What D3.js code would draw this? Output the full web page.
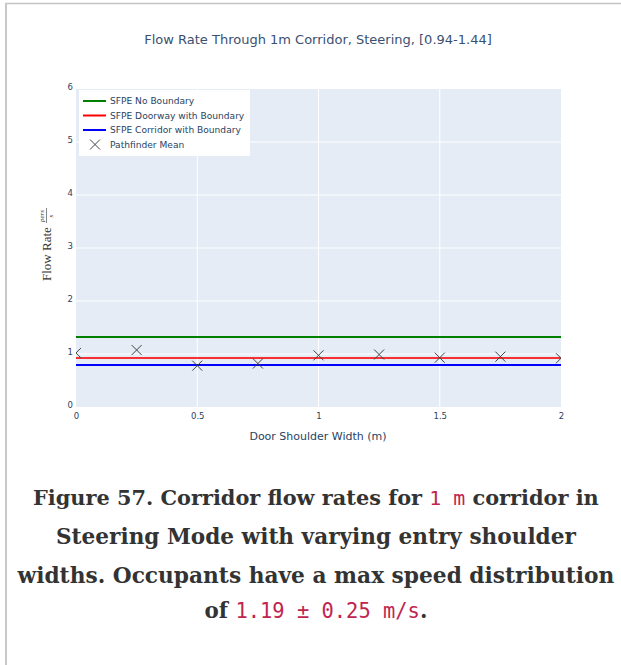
<!DOCTYPE html>
<html><head><meta charset="utf-8">
<script src="https://cdn.jsdelivr.net/npm/d3@7"></script>
<style>
html,body{margin:0;padding:0;background:#fff;}
svg{display:block;}
</style></head>
<body>
<svg id="chart" width="621" height="665"></svg>
<script>
// ---- data ----
const chartTitle = "Flow Rate Through 1m Corridor, Steering, [0.94-1.44]";
const xTitle = "Door Shoulder Width (m)";
const xTicks = [0, 0.5, 1, 1.5, 2];
const xTickLabels = ["0", "0.5", "1", "1.5", "2"];
const yTicks = [0, 1, 2, 3, 4, 5, 6];
const seriesNames = ["SFPE No Boundary", "SFPE Doorway with Boundary", "SFPE Corridor with Boundary", "Pathfinder Mean"];
const seriesColors = ["#008000", "#ff0000", "#0000ff", "#444444"];
const sfpeValues = [1.32, 0.924, 0.792];
const shoulderWidths = [0, 0.25, 0.5, 0.75, 1, 1.25, 1.5, 1.75, 2];
const pathfinderMean = [1.02, 1.075, 0.78, 0.82, 0.975, 0.99, 0.93, 0.95, 0.92];
const captionLines = [
  [["Figure 57. Corridor flow rates for ", "t"], ["1 m", "c"], [" corridor in", "t"]],
  [["Steering Mode with varying entry shoulder", "t"]],
  [["widths. Occupants have a max speed distribution", "t"]],
  [["of ", "t"], ["1.19 \u00b1 0.25 m/s", "c"], [".", "t"]]
];

// ---- layout ----
const svg = d3.select("#chart");
const M = {left: 76, right: 561, top: 89, bottom: 407};
const x = d3.scaleLinear().domain([0, 2]).range([M.left, M.right]);
const y = d3.scaleLinear().domain([0, 6]).range([M.bottom, M.top]);
const tickColor = "#2a3f5f";
const sans = "'DejaVu Sans', Verdana, sans-serif";

// page border
svg.append("line").attr("x1", 5).attr("x2", 621).attr("y1", 3.5).attr("y2", 3.5)
  .attr("stroke", "#c4c4c4").attr("stroke-width", 1.5);
svg.append("line").attr("x1", 6).attr("x2", 6).attr("y1", 3).attr("y2", 665)
  .attr("stroke", "#c8c8c8").attr("stroke-width", 2);

// plot bg
svg.append("rect").attr("x", M.left).attr("y", M.top)
  .attr("width", M.right - M.left).attr("height", M.bottom - M.top).attr("fill", "#e5ecf6");

// grid
svg.append("g").selectAll("line").data(xTicks.slice(1, -1)).join("line")
  .attr("x1", d => x(d)).attr("x2", d => x(d)).attr("y1", M.top).attr("y2", M.bottom)
  .attr("stroke", "#fff").attr("stroke-width", 1);
svg.append("g").selectAll("line").data(yTicks.slice(1, -1)).join("line")
  .attr("y1", d => y(d)).attr("y2", d => y(d)).attr("x1", M.left).attr("x2", M.right)
  .attr("stroke", "#fff").attr("stroke-width", 1);

// axes (labels only)
const xAxis = d3.axisBottom(x).tickValues(xTicks).tickFormat((d, i) => xTickLabels[i]).tickSize(0).tickPadding(6);
const gx = svg.append("g").attr("transform", `translate(0,${M.bottom})`).call(xAxis);
gx.select(".domain").remove();
gx.selectAll("text").attr("font-family", sans).attr("font-size", 8.5).attr("fill", tickColor);

const yAxis = d3.axisLeft(y).tickValues(yTicks).tickFormat(d3.format("d")).tickSize(0).tickPadding(3);
const gy = svg.append("g").attr("transform", `translate(${M.left},0)`).call(yAxis);
gy.select(".domain").remove();
gy.selectAll("text").attr("font-family", sans).attr("font-size", 8.5).attr("fill", tickColor).attr("dy", "0.1em");

// clip
svg.append("clipPath").attr("id", "clip").append("rect")
  .attr("x", M.left).attr("y", M.top).attr("width", M.right - M.left).attr("height", M.bottom - M.top);
const plot = svg.append("g").attr("clip-path", "url(#clip)");

// SFPE lines
sfpeValues.forEach((v, i) => {
  const line = d3.line().x(d => x(d)).y(() => y(v));
  plot.append("path").datum([0, 2]).attr("d", line)
    .attr("fill", "none").attr("stroke", seriesColors[i]).attr("stroke-width", 2)
    .attr("stroke-opacity", i === 1 ? 0.8 : 1);
});

// Pathfinder markers (x-thin)
const ms = 5;
const pts = shoulderWidths.map((w, i) => [w, pathfinderMean[i]]);
plot.append("g").selectAll("path").data(pts).join("path")
  .attr("d", d => {
    const cx = x(d[0]), cy = y(d[1]);
    return `M${cx - ms},${cy - ms}L${cx + ms},${cy + ms}M${cx - ms},${cy + ms}L${cx + ms},${cy - ms}`;
  })
  .attr("stroke", seriesColors[3]).attr("stroke-width", 1).attr("fill", "none");

// legend
const lg = svg.append("g");
lg.append("rect").attr("x", 79).attr("y", 90).attr("width", 171).attr("height", 66).attr("fill", "#fff");
const rowY = [101, 115.5, 130, 144.5];
seriesNames.forEach((name, i) => {
  if (i < 3) {
    lg.append("line").attr("x1", 83).attr("x2", 106).attr("y1", rowY[i]).attr("y2", rowY[i])
      .attr("stroke", seriesColors[i]).attr("stroke-width", 2);
  } else {
    const cx = 95, cy = rowY[i];
    lg.append("path").attr("d", `M${cx - ms},${cy - ms}L${cx + ms},${cy + ms}M${cx - ms},${cy + ms}L${cx + ms},${cy - ms}`)
      .attr("stroke", seriesColors[3]).attr("stroke-width", 1);
  }
  lg.append("text").attr("x", 110).attr("y", rowY[i]).attr("dy", "0.35em")
    .attr("font-family", sans).attr("font-size", 9.1).attr("fill", tickColor).text(name);
});

// title
svg.append("text").attr("x", 318).attr("y", 44).attr("text-anchor", "middle")
  .attr("font-family", sans).attr("font-size", 13).attr("fill", "#3b5070").text(chartTitle);

// x title
svg.append("text").attr("x", 318).attr("y", 440).attr("text-anchor", "middle")
  .attr("font-family", sans).attr("font-size", 11).attr("fill", tickColor).text(xTitle);

// y title (rotated, with fraction)
const yt = svg.append("g").attr("transform", "translate(51,281) rotate(-90)");
yt.append("text").attr("x", 0).attr("y", 0).attr("font-family", "'Liberation Serif', serif")
  .attr("font-size", 13).attr("fill", "#333").text("Flow Rate");
yt.append("text").attr("x", 65).attr("y", -7).attr("text-anchor", "middle").attr("font-family", "'Liberation Serif', serif")
  .attr("font-size", 7).attr("font-style", "italic").attr("fill", "#333").text("pers");
yt.append("line").attr("x1", 58).attr("x2", 73).attr("y1", -4.5).attr("y2", -4.5).attr("stroke", "#333").attr("stroke-width", 0.6);
yt.append("text").attr("x", 65).attr("y", 2).attr("text-anchor", "middle").attr("font-family", "'Liberation Serif', serif")
  .attr("font-size", 7).attr("font-style", "italic").attr("fill", "#333").text("s");

// caption: each part is its own text, scaled so that each line fits its width
const capBase = [505, 544, 583, 618];
const capWidth = [566, 520, 597, 223];
const cap = svg.append("g");
function styleFor(kind, k) {
  return kind === "c"
    ? {family: "'DejaVu Sans Mono', monospace", weight: "normal", size: 21 * k, fill: "#c0254f"}
    : {family: "'DejaVu Serif', serif", weight: "bold", size: 22 * k, fill: "#333"};
}
captionLines.forEach((parts, li) => {
  let total = 0;
  parts.forEach(([s, kind]) => {
    const st = styleFor(kind, 1);
    const t = cap.append("text").attr("font-family", st.family).attr("font-weight", st.weight)
      .attr("font-size", st.size).style("white-space", "pre").text(s);
    total += t.node().getComputedTextLength();
    t.remove();
  });
  const k = Math.min(1, capWidth[li] / total);
  let cx = 316 - total * k / 2;
  parts.forEach(([s, kind]) => {
    const st = styleFor(kind, k);
    const t = cap.append("text").attr("x", cx).attr("y", capBase[li])
      .attr("font-family", st.family).attr("font-weight", st.weight)
      .attr("font-size", st.size).attr("fill", st.fill)
      .style("white-space", "pre").text(s);
    cx += t.node().getComputedTextLength();
  });
});
</script>
</body></html>
